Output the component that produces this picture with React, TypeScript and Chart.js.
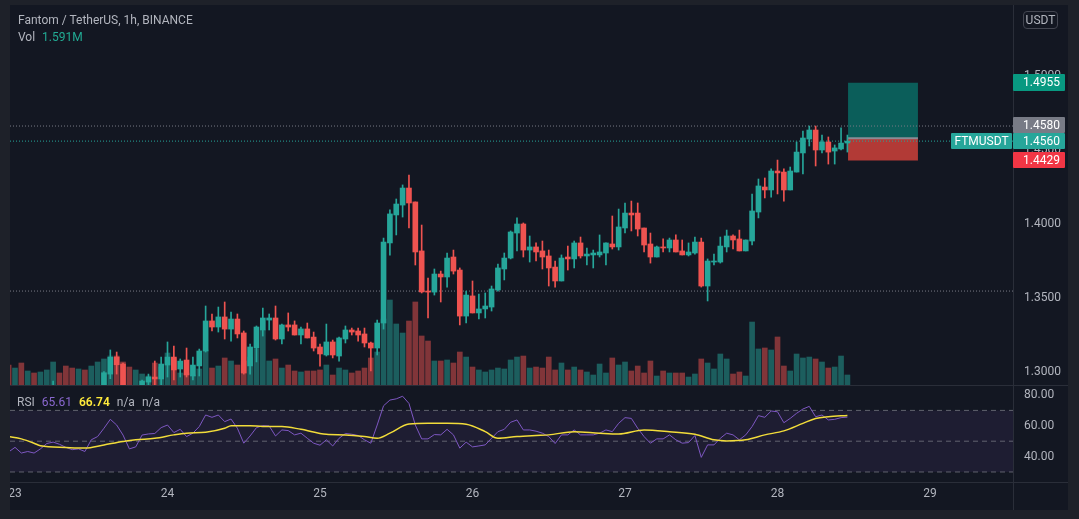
import React, { useEffect, useRef } from "react";
import { Chart, registerables } from "chart.js";

Chart.register(...registerables);

// ---------- data (hourly candles, hour 0 = day 23 00:00) ----------
const FIRST_HOUR = -1;

const opens = [
  1.2880, 1.2862, 1.2878, 1.2852, 1.2866, 1.2856, 1.2870, 1.2886, 1.2905, 1.2888,
  1.2870, 1.2858, 1.2878, 1.2866, 1.2890, 1.2902, 1.2986, 1.3101, 1.3054, 1.2895,
  1.2880, 1.2898, 1.2932, 1.2966, 1.2953, 1.3047, 1.3101, 1.3020, 1.3081, 1.2973,
  1.3041, 1.3142, 1.3345, 1.3304, 1.3372, 1.3290, 1.3358, 1.3264, 1.3041, 1.3162,
  1.3284, 1.3351, 1.3365, 1.3223, 1.3318, 1.3318, 1.3250, 1.3291, 1.3236, 1.3169,
  1.3115, 1.3203, 1.3108, 1.3223, 1.3284, 1.3277, 1.3257, 1.3196, 1.3162, 1.3331,
  1.3872, 1.4061, 1.4128, 1.4243, 1.4149, 1.3818, 1.3547, 1.3540, 1.3662, 1.3642,
  1.3777, 1.3689, 1.3378, 1.3514, 1.3399, 1.3426, 1.3439, 1.3554, 1.3696, 1.3770,
  1.3939, 1.4000, 1.3824, 1.3845, 1.3818, 1.3784, 1.3709, 1.3615, 1.3777, 1.3764,
  1.3872, 1.3784, 1.3791, 1.3791, 1.3804, 1.3865, 1.3845, 1.3973, 1.4074, 1.4074,
  1.3973, 1.3865, 1.3777, 1.3845, 1.3838, 1.3892, 1.3818, 1.3791, 1.3804, 1.3878,
  1.3581, 1.3743, 1.3743, 1.3845, 1.3919, 1.3899, 1.3818, 1.3885, 1.4081, 1.4250,
  1.4230, 1.4358, 1.4351, 1.4230, 1.4351, 1.4480, 1.4574, 1.4635, 1.4500, 1.4554,
  1.4493, 1.4507, 1.4547,
];

const highs = [
  1.2895, 1.2885, 1.2890, 1.2872, 1.2875, 1.2878, 1.2892, 1.2939, 1.2910, 1.2900,
  1.2880, 1.2885, 1.2886, 1.2895, 1.2908, 1.3003, 1.3149, 1.3135, 1.3061, 1.2905,
  1.2902, 1.2946, 1.2986, 1.3074, 1.3101, 1.3203, 1.3176, 1.3088, 1.3162, 1.3101,
  1.3155, 1.3446, 1.3392, 1.3439, 1.3473, 1.3405, 1.3392, 1.3277, 1.3189, 1.3311,
  1.3432, 1.3392, 1.3446, 1.3324, 1.3399, 1.3345, 1.3304, 1.3331, 1.3270, 1.3189,
  1.3324, 1.3216, 1.3236, 1.3311, 1.3297, 1.3297, 1.3297, 1.3203, 1.3351, 1.3905,
  1.4095, 1.4169, 1.4264, 1.4331, 1.4149, 1.3993, 1.3635, 1.3696, 1.3682, 1.3804,
  1.3824, 1.3703, 1.3547, 1.3615, 1.3527, 1.3534, 1.3581, 1.3730, 1.3804, 1.3953,
  1.4041, 1.4007, 1.3919, 1.3872, 1.3885, 1.3824, 1.3750, 1.3791, 1.3851, 1.3885,
  1.3912, 1.3838, 1.3824, 1.3926, 1.3872, 1.4054, 1.4101, 1.4142, 1.4155, 1.4142,
  1.3973, 1.3939, 1.3851, 1.3899, 1.3905, 1.3926, 1.3892, 1.3872, 1.3912, 1.3905,
  1.3764, 1.3797, 1.3912, 1.3959, 1.3926, 1.3959, 1.3892, 1.4203, 1.4304, 1.4311,
  1.4372, 1.4432, 1.4372, 1.4385, 1.4554, 1.4628, 1.4662, 1.4662, 1.4601, 1.4588,
  1.4534, 1.4649, 1.4601,
];

const lows = [
  1.2855, 1.2850, 1.2845, 1.2842, 1.2848, 1.2850, 1.2862, 1.2875, 1.2880, 1.2862,
  1.2850, 1.2852, 1.2858, 1.2860, 1.2882, 1.2895, 1.2955, 1.2986, 1.2885, 1.2870,
  1.2875, 1.2890, 1.2900, 1.2905, 1.2905, 1.2966, 1.2946, 1.2966, 1.2966, 1.2946,
  1.2973, 1.3135, 1.3277, 1.3270, 1.3223, 1.3209, 1.3230, 1.2986, 1.2986, 1.3068,
  1.3243, 1.3284, 1.3216, 1.3189, 1.3277, 1.3250, 1.3189, 1.3230, 1.3142, 1.3040,
  1.3108, 1.3095, 1.3074, 1.3196, 1.3250, 1.3209, 1.3169, 1.3007, 1.3115, 1.3290,
  1.3790, 1.3926, 1.4047, 1.3973, 1.3723, 1.3534, 1.3365, 1.3520, 1.3473, 1.3574,
  1.3662, 1.3318, 1.3331, 1.3399, 1.3358, 1.3365, 1.3412, 1.3547, 1.3622, 1.3764,
  1.3818, 1.3777, 1.3743, 1.3750, 1.3696, 1.3581, 1.3574, 1.3615, 1.3689, 1.3703,
  1.3770, 1.3723, 1.3703, 1.3777, 1.3723, 1.3831, 1.3824, 1.3939, 1.3953, 1.3919,
  1.3811, 1.3736, 1.3777, 1.3811, 1.3811, 1.3811, 1.3791, 1.3784, 1.3797, 1.3574,
  1.3480, 1.3723, 1.3736, 1.3811, 1.3831, 1.3818, 1.3818, 1.3858, 1.4041, 1.4176,
  1.4182, 1.4203, 1.4155, 1.4230, 1.4351, 1.4338, 1.4527, 1.4392, 1.4480, 1.4405,
  1.4405, 1.4500, 1.4486,
];

const closes = [
  1.2862, 1.2878, 1.2852, 1.2866, 1.2856, 1.2870, 1.2886, 1.2905, 1.2888, 1.2870,
  1.2858, 1.2878, 1.2866, 1.2890, 1.2902, 1.2995, 1.3099, 1.3049, 1.2895, 1.2880,
  1.2898, 1.2939, 1.2966, 1.2953, 1.3054, 1.3101, 1.3014, 1.3074, 1.2980, 1.3047,
  1.3142, 1.3345, 1.3304, 1.3372, 1.3290, 1.3358, 1.3257, 1.2993, 1.3169, 1.3304,
  1.3365, 1.3365, 1.3223, 1.3318, 1.3304, 1.3250, 1.3291, 1.3230, 1.3162, 1.3122,
  1.3203, 1.3115, 1.3230, 1.3284, 1.3270, 1.3250, 1.3196, 1.3162, 1.3331, 1.3878,
  1.4068, 1.4135, 1.4243, 1.4142, 1.3811, 1.3541, 1.3540, 1.3662, 1.3642, 1.3770,
  1.3682, 1.3378, 1.3520, 1.3399, 1.3426, 1.3446, 1.3561, 1.3703, 1.3770, 1.3946,
  1.4000, 1.3824, 1.3845, 1.3811, 1.3777, 1.3703, 1.3615, 1.3770, 1.3764, 1.3872,
  1.3784, 1.3797, 1.3804, 1.3811, 1.3872, 1.3845, 1.3980, 1.4074, 1.4061, 1.3966,
  1.3858, 1.3777, 1.3845, 1.3838, 1.3892, 1.3811, 1.3791, 1.3811, 1.3878, 1.3581,
  1.3750, 1.3750, 1.3851, 1.3919, 1.3892, 1.3818, 1.3892, 1.4088, 1.4257, 1.4230,
  1.4358, 1.4345, 1.4230, 1.4358, 1.4486, 1.4581, 1.4635, 1.4500, 1.4554, 1.4486,
  1.4514, 1.4547, 1.4560,
];

// volume in millions
const volumesM = [
  3.18, 2.70, 3.50, 2.23, 1.91, 2.07, 2.39, 3.66, 1.91, 3.02,
  2.70, 2.55, 2.39, 3.02, 3.66, 4.14, 4.61, 4.61, 3.66, 2.86,
  2.39, 1.75, 1.43, 3.50, 2.86, 5.09, 4.30, 1.91, 1.91, 1.59,
  2.55, 5.57, 2.70, 3.02, 4.30, 3.82, 3.18, 3.82, 4.45, 5.73,
  8.75, 3.82, 4.14, 2.70, 3.18, 2.23, 2.07, 2.23, 2.23, 2.39,
  3.18, 1.59, 2.70, 2.39, 1.91, 2.23, 2.70, 4.30, 5.25, 10.50,
  13.52, 9.71, 8.27, 10.18, 13.21, 7.80, 7.00, 3.82, 3.82, 3.98,
  3.50, 5.25, 4.45, 2.86, 2.39, 2.07, 2.39, 2.70, 2.55, 3.98,
  4.45, 4.61, 2.70, 2.86, 2.70, 4.45, 2.39, 3.50, 2.39, 2.86,
  2.39, 2.07, 1.59, 3.34, 1.91, 4.30, 3.18, 3.66, 2.23, 3.02,
  1.91, 3.82, 1.43, 2.23, 1.91, 1.91, 1.91, 1.27, 1.75, 4.14,
  3.50, 2.55, 4.93, 4.14, 1.75, 2.07, 1.43, 10.02, 5.73, 5.89,
  5.57, 7.64, 3.02, 2.23, 4.93, 4.30, 4.45, 4.14, 3.66, 2.70,
  2.86, 4.61, 1.591,
];

const rsiValues = [
  43, 46, 42.3, 43.3, 42.3, 45, 48.5, 49.4, 48, 46,
  44.5, 45, 43.3, 50.9, 53, 58.4, 64.2, 60.5, 54, 45,
  46.3, 54, 54.7, 55, 58.8, 60.5, 55.6, 57.7, 53, 55.2,
  59.5, 67, 65.5, 67, 62.7, 64.4, 58.4, 48.7, 53.4, 58.8,
  60.1, 59.9, 53.4, 57.3, 56.9, 54.1, 55.2, 51.9, 48.7, 47.4,
  50.9, 46.9, 51.9, 55, 54.5, 53.7, 50.9, 48.7, 60.5, 73,
  76.7, 77.5, 79.2, 74.5, 60.5, 51.5, 51.5, 54.3, 54.1, 57.7,
  54.1, 45.5, 49.4, 46.3, 46.9, 47.6, 51.9, 56.2, 57.7, 62.3,
  63.8, 57.3, 57.3, 56.5, 55.2, 53, 48.5, 54.1, 54.1, 57.3,
  54.1, 54.1, 54.1, 55.2, 57.3, 56.2, 61.6, 65.3, 64.8, 58.4,
  53, 48.7, 51.5, 51.5, 54.1, 50.9, 48.7, 49.1, 53.7, 39.5,
  47.6, 47.6, 51.9, 55.2, 54.1, 50.9, 54.1, 59.5, 66.6, 65.5,
  69.6, 69.1, 62, 64.8, 68.1, 70.9, 72.6, 65.9, 67, 63.8,
  64.2, 65.3, 65.61,
];

// RSI-based moving average, read at these hours
const rsiMaHours = [
  -1, 1, 3, 4, 8, 11, 14, 17, 19, 22, 25, 27, 30, 33, 34, 37, 39, 42, 45, 49,
  52, 55, 57, 59, 62, 65, 68, 71, 74, 76, 79, 82, 84, 88, 92, 95, 99, 103, 107,
  110, 112, 115, 118, 121, 124, 126, 128, 131,
];
const rsiMaValues = [
  53, 51.5, 48.7, 47, 45.9, 45.5, 47.6, 49.8, 50.9, 51.9, 54.1, 55.2, 55.8, 58.4,
  60.1, 60.1, 59.5, 59.5, 57.7, 54.5, 54.1, 53, 51.9, 55.2, 61.2, 61.6, 61.6, 61,
  56.2, 51.9, 53, 53.7, 54.1, 56.2, 55.2, 54.7, 57.3, 56.2, 54.5, 50.9, 50.2, 50.9,
  54.1, 56.7, 61.6, 64.8, 65.9, 66.74,
];

const dayLabels = ["23", "24", "25", "26", "27", "28", "29"];
const dayTickHours = [0, 24, 48, 72, 96, 120, 144];
const priceTicks = [1.3, 1.35, 1.4, 1.45, 1.5];
const rsiTicks = [40, 60, 80];
const rsiLevels = [70, 50, 30];

const highLinePrice = 1.4662;
const lastPrice = 1.456;
const supportLinePrice = 1.3547;

const positionEntry = 1.458;
const positionTarget = 1.4955;
const positionStop = 1.4429;
const positionStartHour = 131.1;
const positionEndHour = 142.1;

// ---------- layout / style ----------
const FONT = "Roboto, 'Noto Sans', sans-serif";
const UP = "#26a69a";
const DOWN = "#ef5350";
const UP_VOL = "rgba(38,166,154,0.5)";
const DOWN_VOL = "rgba(239,83,80,0.5)";
const TEXT = "#b2b5be";
const LINE = "#2a2e39";

const X_MIN = -0.787;
const X_MAX = 157.06;
const PRICE_MIN = 1.29122;
const PRICE_MAX = 1.54797;
const VOL_MAX = 60.46;
const RSI_MIN = 23.5;
const RSI_MAX = 85.84;
const AXIS_W = 55;

const hours = opens.map((_, i) => FIRST_HOUR + i);

function hLine(y: number, color: string, dash: number[], order: number, x0 = X_MIN, x1 = X_MAX) {
  return {
    type: "line" as const,
    data: [{ x: x0, y }, { x: x1, y }],
    borderColor: color,
    borderWidth: 1,
    borderDash: dash,
    pointRadius: 0,
    fill: false,
    order,
  };
}

export default function App() {
  const mainRef = useRef<HTMLCanvasElement>(null);
  const rsiRef = useRef<HTMLCanvasElement>(null);

  useEffect(() => {
    const candleColors = hours.map((_, i) => (closes[i] >= opens[i] ? UP : DOWN));
    const volColors = hours.map((_, i) => (closes[i] >= opens[i] ? UP_VOL : DOWN_VOL));

    const mainChart = new Chart(mainRef.current as HTMLCanvasElement, {
      type: "bar",
      data: {
        datasets: [
          {
            type: "bar",
            data: hours.map((h, i) => ({ x: h, y: [lows[i], highs[i]] })),
            backgroundColor: candleColors,
            barThickness: 1,
            grouped: false,
            yAxisID: "y",
            order: 1,
          },
          {
            type: "bar",
            data: hours.map((h, i) => ({ x: h, y: [opens[i], closes[i]] })),
            backgroundColor: candleColors,
            barThickness: 5,
            minBarLength: 1,
            grouped: false,
            yAxisID: "y",
            order: 0,
          },
          {
            type: "bar",
            data: hours.map((h, i) => ({ x: h, y: volumesM[i] })),
            backgroundColor: volColors,
            barThickness: 5,
            grouped: false,
            yAxisID: "yVol",
            order: 20,
          },
          { ...hLine(highLinePrice, "#787b86", [1, 2], 4), yAxisID: "y" },
          { ...hLine(lastPrice, UP, [1, 2], 4), yAxisID: "y" },
          { ...hLine(supportLinePrice, "#787b86", [1, 2], 4), yAxisID: "y" },
          {
            type: "line",
            data: [
              { x: positionStartHour, y: positionTarget },
              { x: positionEndHour, y: positionTarget },
            ],
            borderWidth: 0,
            pointRadius: 0,
            backgroundColor: "#0b5e5a",
            fill: { value: positionEntry },
            yAxisID: "y",
            order: 10,
          },
          {
            type: "line",
            data: [
              { x: positionStartHour, y: positionStop },
              { x: positionEndHour, y: positionStop },
            ],
            borderWidth: 0,
            pointRadius: 0,
            backgroundColor: "#b23a36",
            fill: { value: positionEntry },
            yAxisID: "y",
            order: 10,
          },
          {
            ...hLine(positionEntry, "#8a8d96", [], 9, positionStartHour, positionEndHour),
            borderWidth: 2,
            yAxisID: "y",
          },
        ] as any,
      },
      options: {
        responsive: false,
        animation: false,
        events: [],
        layout: { padding: 0 },
        plugins: { legend: { display: false }, tooltip: { enabled: false } },
        scales: {
          x: { type: "linear", min: X_MIN, max: X_MAX, offset: false, display: false },
          y: {
            type: "linear",
            position: "right",
            min: PRICE_MIN,
            max: PRICE_MAX,
            grid: { display: false, drawTicks: false },
            border: { display: false },
            ticks: {
              color: TEXT,
              font: { family: FONT, size: 12 },
              padding: 11,
              callback: (v: any) => Number(v).toFixed(4),
            },
            afterBuildTicks: (s: any) => {
              s.ticks = priceTicks.map((v) => ({ value: v }));
            },
            afterFit: (s: any) => {
              s.width = AXIS_W;
              s.paddingTop = 0;
              s.paddingBottom = 0;
            },
          },
          yVol: { type: "linear", display: false, min: 0, max: VOL_MAX },
        },
      } as any,
    });

    const rsiChart = new Chart(rsiRef.current as HTMLCanvasElement, {
      type: "line",
      data: {
        datasets: [
          {
            data: [
              { x: X_MIN, y: rsiLevels[0] },
              { x: X_MAX, y: rsiLevels[0] },
            ],
            borderWidth: 0,
            pointRadius: 0,
            backgroundColor: "rgba(126,87,194,0.1)",
            fill: { value: rsiLevels[2] },
            order: 10,
          },
          ...rsiLevels.map((lv) => hLine(lv, "rgba(120,123,134,0.75)", [5, 4], 5)),
          {
            data: hours.map((h, i) => ({ x: h, y: rsiValues[i] })),
            borderColor: "#7e57c2",
            borderWidth: 1,
            pointRadius: 0,
            fill: false,
            order: 1,
          },
          {
            data: rsiMaHours.map((h, i) => ({ x: h, y: rsiMaValues[i] })),
            borderColor: "#f2dc3a",
            borderWidth: 1.5,
            pointRadius: 0,
            fill: false,
            cubicInterpolationMode: "monotone",
            order: 0,
          },
        ] as any,
      },
      options: {
        responsive: false,
        animation: false,
        events: [],
        layout: { padding: 0 },
        plugins: { legend: { display: false }, tooltip: { enabled: false } },
        scales: {
          x: {
            type: "linear",
            min: X_MIN,
            max: X_MAX,
            offset: false,
            grid: { display: false, drawTicks: false },
            border: { display: false },
            ticks: {
              color: TEXT,
              font: { family: FONT, size: 12 },
              padding: 5,
              maxRotation: 0,
              autoSkip: false,
              callback: (v: any) => {
                const idx = dayTickHours.indexOf(Number(v));
                return idx >= 0 ? dayLabels[idx] : "";
              },
            },
            afterBuildTicks: (s: any) => {
              s.ticks = dayTickHours.map((v) => ({ value: v }));
            },
            afterFit: (s: any) => {
              s.height = 28;
              s.paddingLeft = 0;
              s.paddingRight = 0;
            },
          },
          y: {
            type: "linear",
            position: "right",
            min: RSI_MIN,
            max: RSI_MAX,
            grid: { display: false, drawTicks: false },
            border: { display: false },
            ticks: {
              color: TEXT,
              font: { family: FONT, size: 12 },
              padding: 11,
              callback: (v: any) => Number(v).toFixed(2),
            },
            afterBuildTicks: (s: any) => {
              s.ticks = rsiTicks.map((v) => ({ value: v }));
            },
            afterFit: (s: any) => {
              s.width = AXIS_W;
              s.paddingTop = 0;
              s.paddingBottom = 0;
            },
          },
        },
      } as any,
    });

    return () => {
      mainChart.destroy();
      rsiChart.destroy();
    };
  }, []);

  const tag = (text: string, top: number, bg: string, left = 1013, width = 52, h = 16) => (
    <div
      style={{
        position: "absolute",
        left,
        top,
        width,
        height: h,
        background: bg,
        color: "#ffffff",
        fontSize: 12,
        lineHeight: `${h}px`,
        paddingLeft: left === 1013 ? 10 : 0,
        boxSizing: "border-box",
        textAlign: left === 1013 ? "left" : "center",
        borderRadius: 1,
      }}
    >
      {text}
    </div>
  );

  return (
    <div
      style={{
        position: "absolute",
        left: 0,
        top: 0,
        width: 1079,
        height: 519,
        background: "#1e2129",
        fontFamily: FONT,
        overflow: "hidden",
      }}
    >
      <div style={{ position: "absolute", left: 10, top: 5, width: 1058, height: 505, background: "#131722" }} />
      <canvas ref={mainRef} width={1058} height={380} style={{ position: "absolute", left: 10, top: 5 }} />
      <canvas ref={rsiRef} width={1058} height={124} style={{ position: "absolute", left: 10, top: 386 }} />

      {/* separators */}
      <div style={{ position: "absolute", left: 10, top: 385, width: 1058, height: 1, background: LINE }} />
      <div style={{ position: "absolute", left: 10, top: 482, width: 1058, height: 1, background: LINE }} />
      <div style={{ position: "absolute", left: 1013, top: 5, width: 1, height: 505, background: LINE }} />

      {/* header */}
      <div style={{ position: "absolute", left: 18, top: 12, fontSize: 12, lineHeight: "16px", color: TEXT, whiteSpace: "nowrap" }}>
        Fantom / TetherUS, 1h, BINANCE
      </div>
      <div style={{ position: "absolute", left: 18, top: 29, fontSize: 12, lineHeight: "16px", color: TEXT, whiteSpace: "nowrap" }}>
        Vol <span style={{ color: "#22ab94", marginLeft: 4 }}>1.591M</span>
      </div>

      {/* RSI legend */}
      <div
        style={{
          position: "absolute",
          left: 17,
          top: 395,
          fontSize: 12,
          lineHeight: "14px",
          color: TEXT,
          whiteSpace: "nowrap",
          display: "flex",
          gap: 7,
        }}
      >
        <span>RSI</span>
        <span style={{ color: "#8a68cf" }}>65.61</span>
        <span style={{ color: "#ffeb3b", fontWeight: 600 }}>66.74</span>
        <span>n/a</span>
        <span>n/a</span>
      </div>

      {/* currency box */}
      <div
        style={{
          position: "absolute",
          left: 1023,
          top: 11,
          width: 35,
          height: 18,
          border: "1px solid #434651",
          borderRadius: 4,
          boxSizing: "border-box",
          color: TEXT,
          fontSize: 12,
          lineHeight: "16px",
          textAlign: "center",
        }}
      >
        USDT
      </div>

      {/* price tags */}
      {tag("1.4955", 74, "#089981", 1013, 52, 17)}
      {tag("1.4580", 117, "#787b86")}
      {tag("1.4560", 133, UP)}
      {tag("1.4429", 152, "#f23645")}
      {tag("FTMUSDT", 133, UP, 951, 61)}
    </div>
  );
}
